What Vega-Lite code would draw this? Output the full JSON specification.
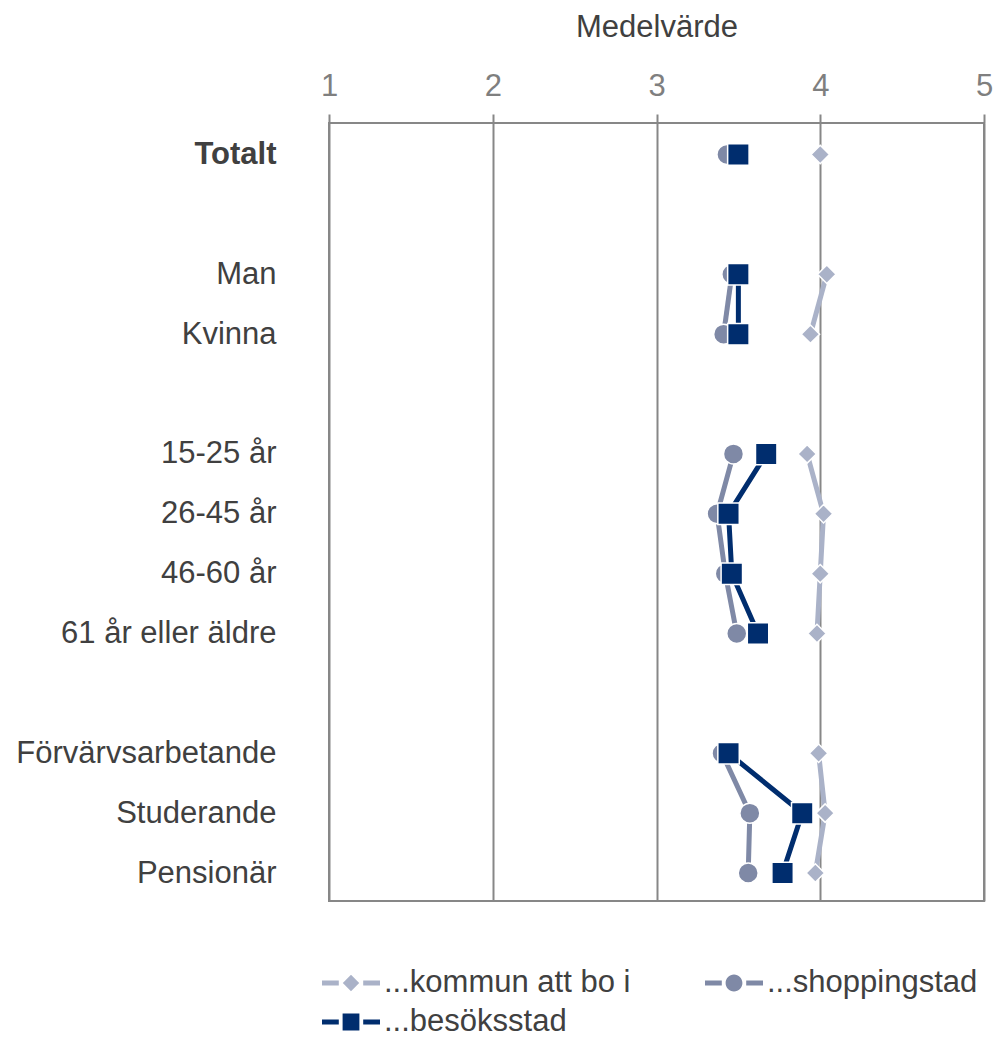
{
  "$schema": "https://vega.github.io/schema/vega-lite/v6.json",
  "width": 655,
  "height": 778,
  "autosize": {"type": "none"},
  "padding": {"left": 329, "top": 123, "right": 14, "bottom": 136},
  "background": "white",
  "config": {
    "font": "Liberation Sans",
    "view": {"stroke": "#878787", "strokeWidth": 2}
  },
  "data": {
    "values": [
      {"k": "Totalt", "s": "...kommun att bo i", "v": 4.00, "g": 1, "o": 1},
      {"k": "Man", "s": "...kommun att bo i", "v": 4.04, "g": 2, "o": 3},
      {"k": "Kvinna", "s": "...kommun att bo i", "v": 3.94, "g": 2, "o": 4},
      {"k": "15-25 år", "s": "...kommun att bo i", "v": 3.92, "g": 3, "o": 6},
      {"k": "26-45 år", "s": "...kommun att bo i", "v": 4.02, "g": 3, "o": 7},
      {"k": "46-60 år", "s": "...kommun att bo i", "v": 4.00, "g": 3, "o": 8},
      {"k": "61 år eller äldre", "s": "...kommun att bo i", "v": 3.98, "g": 3, "o": 9},
      {"k": "Förvärvsarbetande", "s": "...kommun att bo i", "v": 3.99, "g": 4, "o": 11},
      {"k": "Studerande", "s": "...kommun att bo i", "v": 4.03, "g": 4, "o": 12},
      {"k": "Pensionär", "s": "...kommun att bo i", "v": 3.97, "g": 4, "o": 13},
      {"k": "Totalt", "s": "...shoppingstad", "v": 3.43, "g": 1, "o": 1},
      {"k": "Man", "s": "...shoppingstad", "v": 3.46, "g": 2, "o": 3},
      {"k": "Kvinna", "s": "...shoppingstad", "v": 3.41, "g": 2, "o": 4},
      {"k": "15-25 år", "s": "...shoppingstad", "v": 3.47, "g": 3, "o": 6},
      {"k": "26-45 år", "s": "...shoppingstad", "v": 3.37, "g": 3, "o": 7},
      {"k": "46-60 år", "s": "...shoppingstad", "v": 3.42, "g": 3, "o": 8},
      {"k": "61 år eller äldre", "s": "...shoppingstad", "v": 3.49, "g": 3, "o": 9},
      {"k": "Förvärvsarbetande", "s": "...shoppingstad", "v": 3.40, "g": 4, "o": 11},
      {"k": "Studerande", "s": "...shoppingstad", "v": 3.57, "g": 4, "o": 12},
      {"k": "Pensionär", "s": "...shoppingstad", "v": 3.56, "g": 4, "o": 13},
      {"k": "Totalt", "s": "...besöksstad", "v": 3.50, "g": 1, "o": 1},
      {"k": "Man", "s": "...besöksstad", "v": 3.50, "g": 2, "o": 3},
      {"k": "Kvinna", "s": "...besöksstad", "v": 3.50, "g": 2, "o": 4},
      {"k": "15-25 år", "s": "...besöksstad", "v": 3.67, "g": 3, "o": 6},
      {"k": "26-45 år", "s": "...besöksstad", "v": 3.44, "g": 3, "o": 7},
      {"k": "46-60 år", "s": "...besöksstad", "v": 3.46, "g": 3, "o": 8},
      {"k": "61 år eller äldre", "s": "...besöksstad", "v": 3.62, "g": 3, "o": 9},
      {"k": "Förvärvsarbetande", "s": "...besöksstad", "v": 3.44, "g": 4, "o": 11},
      {"k": "Studerande", "s": "...besöksstad", "v": 3.89, "g": 4, "o": 12},
      {"k": "Pensionär", "s": "...besöksstad", "v": 3.77, "g": 4, "o": 13}
    ]
  },
  "encoding": {
    "x": {
      "field": "v", "type": "quantitative",
      "scale": {"domain": [1, 5], "nice": false, "zero": false},
      "axis": {
        "orient": "top", "title": "Medelvärde", "values": [1, 2, 3, 4, 5], "format": "d",
        "labelFlush": false, "labelFontSize": 31, "labelColor": "#7F7F7F", "labelPadding": 12,
        "ticks": true, "tickSize": 9, "tickColor": "#878787", "tickWidth": 2,
        "domain": false, "grid": true, "gridColor": "#878787", "gridWidth": 2,
        "titleFontSize": 31, "titleFontWeight": "normal", "titleColor": "#404040", "titlePadding": 27
      }
    },
    "y": {
      "field": "k", "type": "nominal",
      "scale": {
        "domain": ["Totalt", " ", "Man", "Kvinna", "  ", "15-25 år", "26-45 år", "46-60 år", "61 år eller äldre", "   ", "Förvärvsarbetande", "Studerande", "Pensionär"],
        "type": "point", "padding": 0.497, "align": 0.53
      },
      "axis": {
        "title": null, "ticks": false, "domain": false, "grid": false, "labelLimit": 0,
        "labelFontSize": 31, "labelColor": "#404040", "labelPadding": 53,
        "labelFontWeight": {"condition": {"test": "datum.value === 'Totalt'", "value": "bold"}, "value": "normal"}
      }
    }
  },
  "layer": [
    {
      "mark": {"type": "line", "strokeWidth": 5},
      "encoding": {
        "color": {
          "field": "s", "type": "nominal", "legend": null,
          "scale": {"domain": ["...kommun att bo i", "...shoppingstad", "...besöksstad"], "range": ["#AAB2C8", "#7F89A6", "#002D6E"]}
        },
        "detail": {"field": "g"},
        "order": {"field": "o", "type": "quantitative"}
      }
    },
    {
      "mark": {"type": "point", "filled": true, "opacity": 1, "stroke": "white", "strokeWidth": 1.5},
      "encoding": {
        "color": {
          "field": "s", "type": "nominal", "legend": null,
          "scale": {"domain": ["...kommun att bo i", "...shoppingstad", "...besöksstad"], "range": ["#AAB2C8", "#7F89A6", "#002D6E"]}
        },
        "shape": {
          "field": "s", "type": "nominal", "legend": null,
          "scale": {"domain": ["...kommun att bo i", "...shoppingstad", "...besöksstad"], "range": ["diamond", "circle", "square"]}
        },
        "size": {
          "field": "s", "type": "nominal", "legend": null,
          "scale": {"domain": ["...kommun att bo i", "...shoppingstad", "...besöksstad"], "range": [340, 460, 420]}
        }
      }
    },
    {
      "mark": {"type": "point", "filled": true, "opacity": 0, "strokeWidth": 0},
      "encoding": {
        "color": {
          "field": "s", "type": "nominal",
          "scale": {"domain": ["...kommun att bo i", "...shoppingstad", "...besöksstad"], "range": ["#AAB2C8", "#7F89A6", "#002D6E"]},
          "legend": {
            "orient": "none", "legendX": 2, "legendY": 840, "columns": 2, "direction": "horizontal", "title": null,
            "labelFontSize": 31, "labelColor": "#404040", "labelFont": "Liberation Sans", "labelLimit": 0,
            "symbolSize": 1600, "symbolOpacity": 1, "symbolStrokeWidth": 0,
            "columnPadding": 74, "rowPadding": 4, "labelOffset": 13, "padding": 0
          }
        },
        "shape": {
          "field": "s", "type": "nominal",
          "scale": {
            "domain": ["...kommun att bo i", "...shoppingstad", "...besöksstad"],
            "range": [
              "M-1.45,-0.13H-0.61V0.13H-1.45Z M0,-0.41L0.41,0L0,0.41L-0.41,0Z M0.61,-0.13H1.45V0.13H0.61Z",
              "M-1.45,-0.13H-0.61V0.13H-1.45Z M-0.42,0A0.42,0.42,0,1,0,0.42,0A0.42,0.42,0,1,0,-0.42,0Z M0.61,-0.13H1.45V0.13H0.61Z",
              "M-1.45,-0.13H-0.61V0.13H-1.45Z M-0.42,-0.42H0.42V0.42H-0.42Z M0.61,-0.13H1.45V0.13H0.61Z"
            ]
          },
          "legend": {
            "orient": "none", "legendX": 2, "legendY": 840, "columns": 2, "direction": "horizontal", "title": null,
            "labelFontSize": 31, "labelColor": "#404040", "labelFont": "Liberation Sans", "labelLimit": 0,
            "symbolSize": 1600, "symbolOpacity": 1, "symbolStrokeWidth": 0,
            "columnPadding": 74, "rowPadding": 4, "labelOffset": 13, "padding": 0
          }
        }
      }
    }
  ],
  "resolve": {"scale": {"color": "independent", "shape": "independent"}}
}
